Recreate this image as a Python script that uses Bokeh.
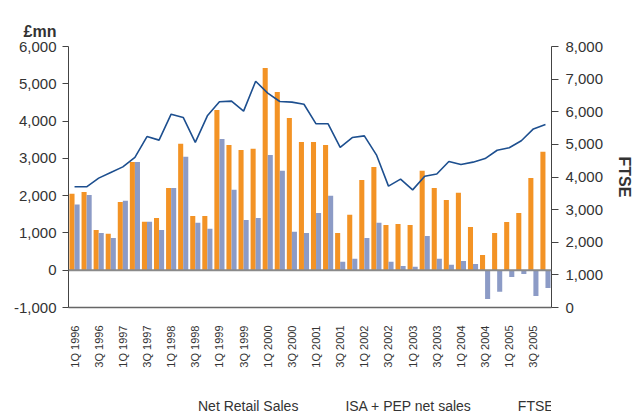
import numpy as np
from bokeh.plotting import figure
from bokeh.layouts import column
from bokeh.models import (Range1d, LinearAxis, FixedTicker, SingleIntervalTicker, Span,
                          NumeralTickFormatter, Legend, LegendItem, ColumnDataSource)
from bokeh.transform import dodge
from bokeh.embed import file_html
from bokeh.resources import INLINE

years = [1996, 1997, 1998, 1999, 2000, 2001, 2002, 2003, 2004, 2005]
quarters = [f"{q}Q {y}" for y in years for q in (1, 2, 3, 4)]

net_retail = [2050, 2100, 1080, 975, 1830, 2905, 1300, 1400, 2205, 3390,
              1455, 1455, 4300, 3360, 3225, 3255, 5425, 4780, 4085, 3440,
              3440, 3360, 1000, 1485, 2420, 2770, 1215, 1240, 1215, 2665,
              2205, 1885, 2075, 1160, 410, 1000, 1295, 1535, 2475, 3175]
isa_pep = [1760, 2020, 1000, 865, 1860, 2905, 1300, 1080, 2205, 3040,
           1270, 1110, 3520, 2155, 1350, 1400, 3090, 2665, 1030, 1000,
           1535, 1995, 225, 305, 865, 1270, 225, 115, 90, 920,
           305, 145, 250, 170, -770, -580, -180, -100, -690, -475]
ftse = [3700, 3700, 3965, 4140, 4310, 4600, 5240, 5130, 5925, 5825,
        5060, 5875, 6305, 6325, 6020, 6935, 6570, 6315, 6295, 6230,
        5630, 5630, 4905, 5210, 5260, 4680, 3720, 3935, 3605, 4025,
        4090, 4475, 4385, 4455, 4565, 4820, 4895, 5110, 5475, 5610]
series_names = ["Net Retail Sales", "ISA + PEP net sales", "FTSE 100"]

x = list(range(len(quarters)))
src = ColumnDataSource(dict(x=x, net=net_retail, isa=isa_pep, ftse=ftse))

FONT = "Liberation Sans"
TXT = "#333333"
ORANGE = "#F39325"
BLUE = "#8C9BC6"
NAVY = "#1D4F8F"

p = figure(width=636, height=377, output_backend="svg", toolbar_location=None,
           x_range=Range1d(-0.5, len(x) - 0.5), y_range=Range1d(-1000, 6000),
           min_border_left=68, min_border_right=84, min_border_top=46, min_border_bottom=70)
p.extra_y_ranges = {"ftse": Range1d(0, 8000)}
p.outline_line_color = None
p.xgrid.grid_line_color = None
p.ygrid.grid_line_color = None
p.background_fill_color = "white"
p.border_fill_color = "white"

r1 = p.vbar(x=dodge("x", -0.21, range=p.x_range), top="net", width=0.42, source=src,
            fill_color=ORANGE, line_color=None)
r2 = p.vbar(x=dodge("x", 0.21, range=p.x_range), top="isa", width=0.42, source=src,
            fill_color=BLUE, line_color=None)
r3 = p.line("x", "ftse", source=src, y_range_name="ftse", line_color=NAVY, line_width=1.6)

p.add_layout(Span(location=0, dimension="width", line_color="#8a8a8a", line_width=2))

# left axis
ya = p.yaxis[0]
ya.ticker = SingleIntervalTicker(interval=1000)
ya.formatter = NumeralTickFormatter(format="0,0")
ya.minor_tick_line_color = None
ya.major_tick_in = 0
ya.major_tick_out = 6
ya.major_label_standoff = 6
ya.axis_line_color = "#444444"
ya.major_tick_line_color = "#444444"
ya.major_label_text_font = FONT
ya.major_label_text_font_size = "15px"
ya.major_label_text_color = TXT

# right axis
ra = LinearAxis(y_range_name="ftse", axis_label="FTSE")
ra.ticker = SingleIntervalTicker(interval=1000)
ra.formatter = NumeralTickFormatter(format="0,0")
ra.minor_tick_line_color = None
ra.major_tick_in = 0
ra.major_tick_out = 7
ra.major_label_standoff = 7
ra.axis_line_color = "#444444"
ra.major_tick_line_color = "#444444"
ra.major_label_text_font = FONT
ra.major_label_text_font_size = "15px"
ra.major_label_text_color = TXT
ra.axis_label_text_font = FONT
ra.axis_label_text_font_size = "16px"
ra.axis_label_text_font_style = "bold"
ra.axis_label_text_color = TXT
ra.axis_label_standoff = 10
p.add_layout(ra, "right")

# x axis
xa = p.xaxis[0]
xa.ticker = FixedTicker(ticks=x[::2])
xa.major_label_overrides = {i: quarters[i] for i in x[::2]}
xa.major_label_orientation = np.pi / 2
xa.major_tick_in = 0
xa.major_tick_out = 0
xa.minor_tick_line_color = None
xa.major_label_standoff = 18
xa.axis_line_color = "#666666"
xa.axis_line_width = 1.5
xa.major_label_text_font = FONT
xa.major_label_text_font_size = "11px"
xa.major_label_text_color = TXT

# title
p.title.text = "£mn"
p.title.align = "left"
p.title.offset = -45
p.title.standoff = 14
p.title.text_font = FONT
p.title.text_font_size = "16px"
p.title.text_font_style = "bold"
p.title.text_color = TXT

# legend strip (separate small figure below the chart)
lg = figure(width=636, height=37, output_backend="svg", toolbar_location=None,
            x_range=Range1d(0, 1), y_range=Range1d(0, 1),
            x_axis_type=None, y_axis_type=None, min_border=0)
lg.outline_line_color = None
lg.background_fill_color = "white"
lg.border_fill_color = "white"
lr1 = lg.vbar(x=[], top=[], width=0.1, fill_color=ORANGE, line_color=None)
lr2 = lg.vbar(x=[], top=[], width=0.1, fill_color=BLUE, line_color=None)
lr3 = lg.line(x=[], y=[], line_color=NAVY, line_width=1.6)

legend = Legend(items=[LegendItem(label=series_names[0], renderers=[lr1]),
                       LegendItem(label=series_names[1], renderers=[lr2]),
                       LegendItem(label=series_names[2], renderers=[lr3])],
                orientation="horizontal", location=(109, 0), padding=0, margin=0,
                spacing=26, glyph_width=12, glyph_height=12, label_standoff=9,
                border_line_color=None, background_fill_alpha=0,
                label_text_font=FONT, label_text_font_size="14px", label_text_color=TXT)
lg.add_layout(legend, "center")

layout = column(p, lg, spacing=0)
open("out.html", "w").write(file_html(layout, INLINE))
